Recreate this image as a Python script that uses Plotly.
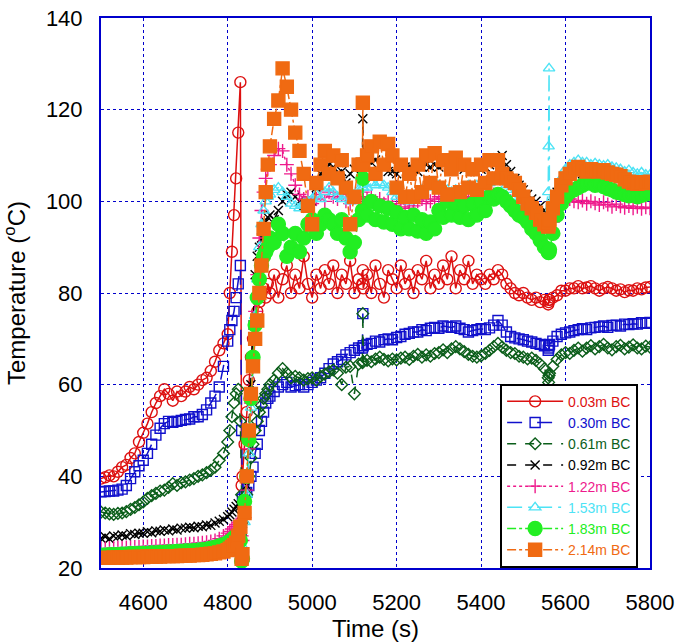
import plotly.graph_objects as go

# sample times (s): coarse steps, finer around the ignition at ~4830 s
time_s = (list(range(4500, 4801, 10)) + [4805, 4810, 4815, 4820, 4825, 4830] + [4833]
          + list(range(4835, 4896, 5)) + list(range(4900, 5111, 10)) + [5119, 5120, 5121]
          + list(range(5130, 5551, 10)) + [5559, 5560, 5561, 5562] + list(range(5570, 5801, 10)))

t_003 = [39.5, 39.8, 40.2, 40.0, 41.0, 42.0, 42.5, 44.0, 45.0, 47.5,
         49.5, 51.5, 54.0, 56.0, 57.5, 59.0, 58.0, 56.5, 58.5, 57.5,
         58.5, 59.5, 59.0, 60.0, 61.0, 61.5, 63.0, 65.0, 67.5, 69.0,
         71.0,
         80, 89, 97, 105, 115, 126,
         38,
         40, 47, 54, 61, 66, 70, 73, 76, 78, 80, 81, 79, 82,
         80, 84, 79, 83, 86, 80, 84, 81, 88, 82,
         79, 84, 81, 85, 82, 86, 80, 84, 82, 87,
         80, 83,
         82, 85, 81,
         84, 80, 86, 82, 79, 85, 83, 81, 86, 82,
         84, 80, 85, 83, 87, 81, 84, 82, 86, 83,
         88, 81, 85, 83, 87, 82, 84, 83, 82, 84,
         83, 85, 84, 82, 81, 80, 79.5, 80, 79, 78.5,
         79, 78, 78.5,
         77.5, 78, 78.5, 78.5,
         79, 79.5, 80.5, 80.5, 81, 81, 81.5, 81, 81.2, 81.5,
         81, 80.5, 81, 81.3, 81, 80.5, 80.8, 80.2, 80.6, 80.5,
         81, 80.8, 81.2, 81.3]

t_030 = [36.6, 36.7, 36.8, 36.8, 37.0, 37.2, 38.0, 39.5, 41.0, 42.3,
         43.5, 45.0, 47.0, 49.0, 50.5, 51.5, 52.0, 51.8, 52.0, 52.2,
         52.4, 52.5, 53.0, 53.0, 53.5, 54.5, 56.0, 57.5, 59.5, 64.0,
         69.5,
         72, 74, 76, 79, 82, 86,
         50,
         35, 35.5, 36.5, 38, 40, 42, 45, 47, 50, 52, 54, 56, 57,
         57.5, 58.5, 59.5, 60, 60.5, 59.5, 59.8, 60, 59.5, 60,
         60.5, 61, 61.5, 62.5, 63.5, 64.5, 65, 65.5, 66.5, 67,
         67.5, 68,
         68, 75.5, 68.5,
         68.8, 69, 69.5, 69.3, 69.8, 70, 69.8, 70.3, 70.5, 71,
         71.2, 71.5, 71.5, 72, 71.8, 72.3, 72.5, 72.3, 72.8, 72.6,
         72.5, 72.8, 72.3, 72.0, 71.5, 71.8, 72.0, 72.2, 72.0, 72.4,
         73, 74, 73, 71.5, 70.5, 70.2, 70, 69.8, 69.5, 69.3,
         69, 68.8, 68.5,
         67.5, 68, 68.5, 68.8,
         69.5, 70.5, 71, 71.3, 71.5, 71.8, 72, 72.2, 72, 72.4,
         72.5, 72.6, 72.8, 72.5, 72.9, 73, 72.8, 73.2, 73.1, 73.3,
         73.2, 73.5, 73.4, 73.6]

t_061 = [32.2, 32.0, 31.8, 31.7, 31.9, 32.0, 32.3, 32.8, 33.2, 33.8,
         34.4, 35.2, 35.8, 36.3, 36.8, 37.0, 37.6, 38.4, 38.0, 38.6,
         38.8, 39.2, 39.5, 40.0, 40.3, 40.8, 41.3, 42.0, 43.5, 45.0,
         47.5,
         50, 53, 56, 58, 59, 52,
         36,
         30, 32, 36, 40, 44, 47, 50, 52, 54, 55.5, 57, 58, 59,
         60, 61, 62.5, 63.5, 62.5, 61.5, 61.8, 61.5, 61, 61.3,
         61.5, 61, 61.8, 62.3, 62.8, 63.2, 62.5, 60, 63.8, 64,
         58, 64.5,
         64.8, 75.5, 65,
         65.3, 65, 65.6, 66, 65.5, 65.2, 65.6, 65.4, 65.8, 66,
         65.5, 66.2, 66.6, 66, 66.5, 66.2, 66.8, 67, 67.6, 67,
         67.8, 68.3, 67.8, 67.2, 66.6, 66.2, 66, 66.3, 66.8, 67.5,
         68.3, 69, 68.2, 67.5, 67, 66.8, 66.2, 66, 65.6, 65.8,
         65.3, 64.5, 63.5,
         61.5, 60.5, 62, 62.5,
         64, 65.5, 66.5, 67, 66.8, 67.5, 68, 67.3, 68, 68.5,
         67.8, 68.3, 68.8, 68, 67.6, 68.3, 68.6, 67.8, 68.2, 68.7,
         68, 67.8, 68.4, 68.2]

t_092 = [26.5, 26.8, 26.4, 27.0, 26.9, 27.2, 27.0, 27.5, 27.3, 27.6,
         27.6, 27.9, 27.7, 28.1, 28.0, 28.3, 28.1, 28.5, 28.3, 28.7,
         28.7, 28.9, 28.8, 29.1, 29.0, 29.4, 29.3, 29.8, 30.2, 30.6,
         31.2,
         31.6, 32.2, 32.8, 33.4, 34, 33.5,
         30,
         28, 32, 38, 50, 60, 73, 84, 88, 90, 92, 94, 95.5, 96.5,
         97, 96, 98, 100, 101.5, 102, 101, 100, 99, 98.5,
         100, 103, 106, 107, 108, 107.5, 106, 106.5, 104, 106,
         107, 108,
         108, 118, 108.5,
         109, 108.5, 109, 108, 107.5, 106.5, 106.5, 106, 107, 107.5,
         107.5, 107, 106.5, 107.5, 108, 107.5, 108, 107.5, 108, 108.5,
         108, 108.5, 107.5, 107, 107.5, 108, 107.5, 107, 107.5, 108,
         108.5, 109.5, 110, 108, 106.5, 105, 103.5, 102.5, 101.5, 100.5,
         100, 99, 98,
         96.5, 96, 97, 97.5,
         99.5, 102, 104, 105.5, 106.5, 106.5, 106.5, 106, 106, 106.3,
         106, 105.8, 106, 105.5, 105.3, 105.5, 105, 104.8, 104.5, 104.6,
         104.3, 104.5, 104.2, 104.3]

t_122 = [24.2, 24.2, 24.3, 24.3, 24.4, 24.4, 24.5, 24.5, 24.6, 24.6,
         24.7, 24.7, 24.8, 24.8, 24.9, 24.9, 25.0, 25.0, 25.1, 25.1,
         25.2, 25.3, 25.3, 25.4, 25.5, 25.6, 25.8, 26.0, 26.4, 27.0,
         27.6,
         28, 28.5, 29, 29.5, 30, 29.5,
         27,
         26, 31, 37, 46, 56, 66, 76, 84, 92, 98, 102, 105, 107,
         108, 110, 111.5, 111, 108, 106, 103.5, 101.5, 100.5, 101,
         99.5, 100.5, 101.5, 100, 102, 101, 100.5, 101.5, 100, 99.5,
         101, 100.5,
         101, 102, 101,
         100.5, 101, 100, 100.5, 99.5, 100, 99, 99.5, 98.8, 99.5,
         98.5, 99, 100, 100.5, 99.5, 100, 100.5, 101, 100.5, 101,
         100.5, 101, 100, 100.5, 101, 100.5, 101, 100.5, 101, 101.2,
         101.5, 101, 100.5, 100.5, 100, 99, 98, 97, 96, 95.5,
         95, 94.5, 94,
         93.5, 93.8, 94, 94.2,
         95.5, 97.5, 99, 100, 100.5, 100, 99.8, 100.2, 99.5, 100,
         99.6, 99.2, 99.8, 99.3, 98.8, 99.4, 98.9, 98.6, 99, 98.5,
         98.8, 98.4, 98.7, 98.5]

t_153 = [23.3, 23.3, 23.4, 23.4, 23.4, 23.5, 23.5, 23.6, 23.6, 23.7,
         23.7, 23.8, 23.8, 23.8, 23.9, 23.9, 24.0, 24.0, 24.1, 24.1,
         24.2, 24.2, 24.3, 24.4, 24.5, 24.6, 24.8, 25.0, 25.3, 25.7,
         26.2,
         26.6, 27, 27.5, 28, 28.5, 28,
         25,
         24, 30, 36, 45, 55, 65, 75, 83, 90, 95, 98, 100, 101,
         101.5, 102.5, 103, 102, 101, 99.5, 99, 98.5, 99.5, 100,
         100.5, 101.5, 100.5, 102, 103, 102, 101, 100.5, 101.5, 100,
         101.5, 102.5,
         103, 104, 103,
         103, 104, 103.5, 104, 103.5, 103, 102, 101, 101.5, 100.5,
         100, 100.5, 101.5, 102.5, 103, 103.5, 104, 103.5, 103, 102.5,
         102, 102.5, 102, 103, 103.5, 103, 103.5, 103, 103.5, 104,
         104.5, 105, 104.5, 103.5, 102.5, 101, 100, 99, 98, 97.5,
         97, 96.5, 96,
         102, 112, 129, 96.5,
         98.5, 102, 105, 107, 108, 108.5, 109, 108.5, 108.5, 108,
         108.3, 108, 107.8, 108, 107.5, 107.3, 107, 106.5, 106.8, 106.3,
         106, 106.3, 105.8, 105.8]

t_183 = [22.8, 22.8, 22.9, 22.9, 22.9, 23.0, 23.0, 23.1, 23.1, 23.2,
         23.2, 23.2, 23.3, 23.3, 23.4, 23.4, 23.5, 23.5, 23.6, 23.6,
         23.7, 23.7, 23.8, 23.9, 24.0, 24.1, 24.3, 24.5, 24.8, 25.1,
         25.5,
         25.8, 26.2, 26.6, 27, 27.3, 26,
         21.5,
         22, 34.5, 40, 48, 57, 66, 73, 79, 83, 86, 88, 89, 90,
         92, 91, 95, 93, 88, 90, 93, 89, 92, 95,
         96, 93, 95, 97, 96, 95, 93, 96, 92, 89,
         91, 96,
         98, 105, 98,
         97, 100, 96, 99, 95.5, 98.5, 95, 97.5, 94, 96.5,
         94, 97, 93.5, 96, 93, 95.5, 94, 98, 96.5, 100,
         97, 99.5, 96.5, 99, 96, 99.5, 97, 100, 98, 101,
         100.5, 101.5, 101, 100, 99, 98, 97, 96.5, 95.5, 94,
         93, 91.5, 90,
         89, 88.8, 89, 89.5,
         93, 97, 99.5, 101, 102, 102.5, 103, 103.5, 104, 104,
         103.5, 103.8, 103.2, 102.8, 102.5, 102, 101.8, 101.5, 101.2, 101.5,
         101, 101.3, 101.6, 101.8]

t_214 = [22.2, 22.2, 22.2, 22.3, 22.3, 22.3, 22.3, 22.4, 22.4, 22.4,
         22.4, 22.5, 22.5, 22.5, 22.5, 22.6, 22.6, 22.6, 22.6, 22.7,
         22.7, 22.7, 22.8, 22.8, 22.9, 23.0, 23.1, 23.2, 23.4, 23.6,
         23.9,
         24.2, 24.6, 25, 25.5, 27, 29,
         22,
         23, 32, 40, 50, 58, 64, 70, 74, 80, 86, 94, 102, 108,
         112, 118, 122, 129, 125, 120, 115, 111, 106, 99,
         95, 104, 108, 111, 106, 110, 105, 109, 103, 95,
         101, 108,
         108, 121.5, 108,
         110, 112, 106, 113, 108, 112.5, 110, 103, 108, 101,
         106, 101, 108, 102, 110, 104, 110.5, 103, 109, 101.5,
         107, 109.5, 102, 108, 103, 107, 102.5, 108, 104, 109,
         105, 109, 106, 105, 104.5, 104, 102.5, 101, 99.5, 98.5,
         97.5, 96, 95,
         94.5, 95, 95.5, 96,
         98.5, 101, 103.5, 105, 106, 107, 107.5, 107, 106.5, 107,
         106.8, 106.5, 106.8, 106.3, 106, 105.8, 105.5, 104.8, 104.3, 104,
         103.8, 104.2, 104, 104.3]

labels = ["0.03m BC", "0.30m BC", "0.61m BC", "0.92m BC", "1.22m BC", "1.53m BC", "1.83m BC", "2.14m BC"]
series = [t_003, t_030, t_061, t_092, t_122, t_153, t_183, t_214]
colors = ['#dd1010', '#1010cc', '#0b5e1a', '#000000', '#ee1a8c', '#4de3f5', '#22ee22', '#f06a12']
symbols = ['circle-open', 'square-open', 'diamond-open', 'x-thin-open', 'cross-thin-open',
           'triangle-up-open', 'circle', 'square']
sizes = [11, 10, 9, 9, 10, 10, 14, 13]
dashes = ['solid', 'longdash', 'dash', 'dash', 'dot', 'longdashdot', 'dashdot', 'dashdot']

for name, vals in zip(labels, series):
    if len(vals) != len(time_s):
        raise Exception(f"{name}: {len(vals)} values for {len(time_s)} times")

fig = go.Figure()
for name, vals, col, sym, sz, dash in zip(labels, series, colors, symbols, sizes, dashes):
    fig.add_trace(go.Scatter(
        x=time_s, y=vals, mode='lines+markers',
        name=f"<span style='color:{col}'>{name}</span>",
        line=dict(color=col, width=1.5, dash=dash),
        marker=dict(symbol=sym, size=sz, color=col, line=dict(color=col, width=1.4)),
    ))

font = "Arial, Liberation Sans, sans-serif"
fig.update_layout(
    width=678, height=642,
    margin=dict(l=101, r=28, t=18, b=74, autoexpand=False),
    plot_bgcolor='white', paper_bgcolor='white',
    font=dict(family=font, color='black'),
    legend=dict(x=0.727, y=0.335, xanchor='left', yanchor='top',
                bgcolor='white', bordercolor='black', borderwidth=2,
                font=dict(size=14, family=font), itemwidth=56,
                tracegroupgap=0),
)
axis_common = dict(showline=True, linecolor='#0000cc', linewidth=2, mirror=True,
                   showgrid=True, gridcolor='#0000cc', gridwidth=1, griddash='dot',
                   zeroline=False, ticks='', automargin=False,
                   tickfont=dict(size=22, family=font))
fig.update_xaxes(range=[4500, 5800], dtick=200, tick0=4600, ticklabelstandoff=14,
                 title=dict(text="Time (s)", font=dict(size=24, family=font), standoff=2),
                 **axis_common)
fig.update_yaxes(range=[20, 140], dtick=20, ticklabelstandoff=12,
                 title=dict(text="Temperature (<sup>o</sup>C)", font=dict(size=24, family=font), standoff=14),
                 **axis_common)

# the page's default body margin would shift the fixed-size figure
fig.write_html("out.html", config={'displayModeBar': False},
               post_script="document.body.style.margin = '0';")
